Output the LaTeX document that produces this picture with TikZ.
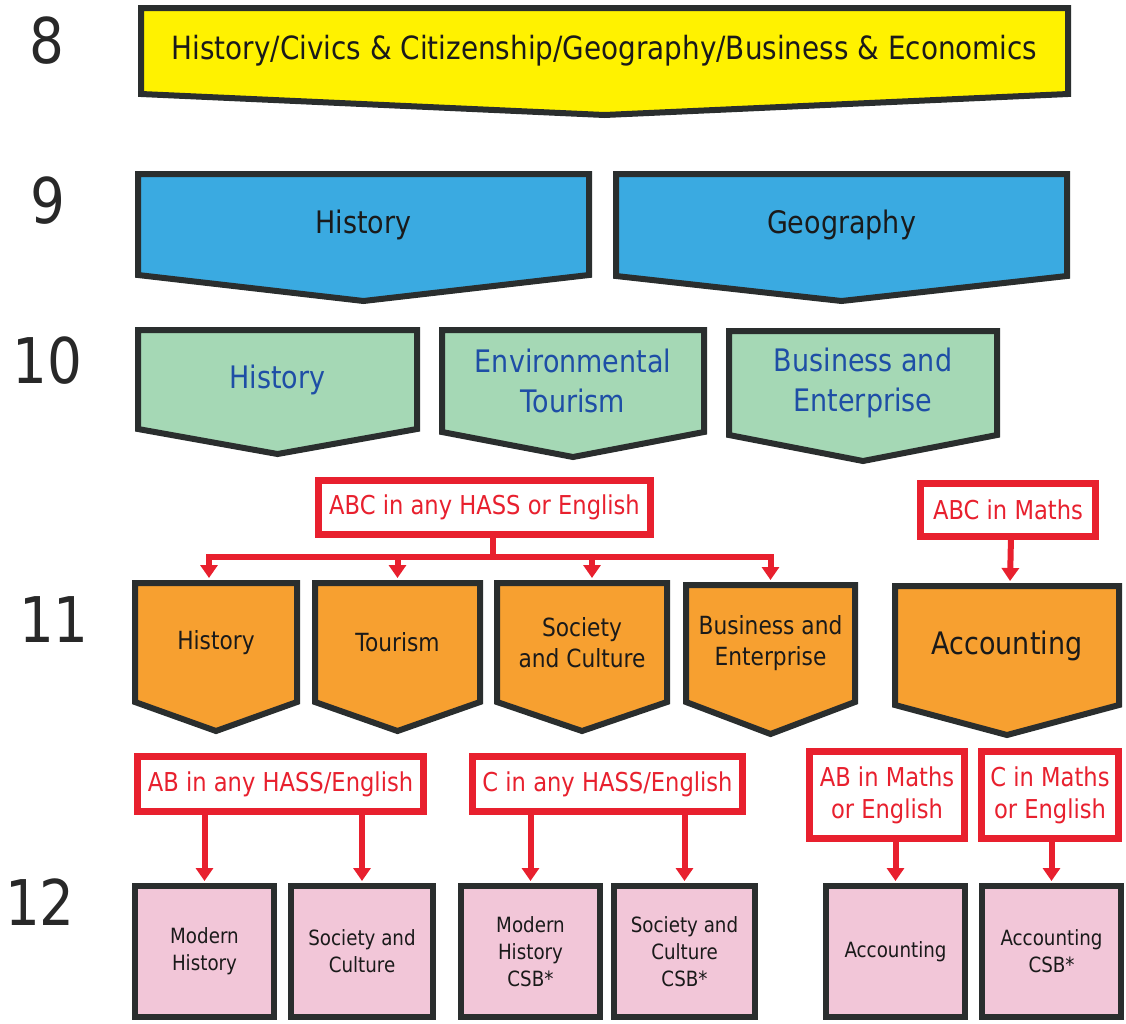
\documentclass[tikz,border=0pt]{standalone}
\usepackage{fontspec}
\setmainfont{DejaVu Sans}[FakeStretch=0.87]
\usetikzlibrary{arrows.meta,backgrounds,calc}
\definecolor{yellowF}{RGB}{255,242,0}
\definecolor{blueF}{RGB}{58,170,225}
\definecolor{greenF}{RGB}{165,216,181}
\definecolor{orangeF}{RGB}{247,160,48}
\definecolor{pinkF}{RGB}{242,198,216}
\definecolor{redC}{RGB}{232,32,46}
\definecolor{edgeC}{RGB}{42,46,46}
\definecolor{navyT}{RGB}{30,78,166}
\definecolor{darkT}{RGB}{26,26,26}
\newcommand\chev[3]{%
  \draw[boxline, fill=#3] (#1.north west) -- (#1.north east) -- (#1.south east)
    -- ([yshift=-#2pt]#1.south) -- (#1.south west) -- cycle;}
\begin{document}
\begin{tikzpicture}[x=1pt,y=-1pt,
  boxline/.style={draw=edgeC, line width=6pt, line join=miter},
  ctext/.style={inner sep=0pt, outer sep=0pt, align=center, text=darkT},
  rownum/.style={inner sep=0pt, anchor=base, text={rgb,255:red,40;green,40;blue,40},
     font=\fontsize{63}{63}\selectfont},
  f32/.style={font=\fontsize{32}{41}\selectfont},
  f31/.style={font=\fontsize{31}{40}\selectfont},
  f25/.style={font=\fontsize{25}{31}\selectfont},
  f26/.style={font=\fontsize{26}{32}\selectfont},
  f21/.style={font=\fontsize{21}{27}\selectfont},
  pinkbox/.style={ctext, f21, draw=edgeC, line width=6pt, fill=pinkF,
     minimum height=131pt},
  redbox/.style={inner sep=0pt, outer sep=0pt, align=center, text=redC,
     draw=redC, line width=7.5pt, fill=white, f26},
  redline/.style={draw=redC, line width=6pt},
  redarrow/.style={redline, -{Triangle[width=17pt,length=13pt]}, shorten >=2pt},
]
\useasboundingbox (0,0) rectangle (1126,1023);
% row numbers
\node[rownum] (r8) at (47,63) {8};
\node[rownum] (r9) at (47.5,223) {9};
\node[rownum] (r10) at (47.5,383) {10};
\node[rownum] (r11) at (54,642) {11};
\node[rownum] (r12) at (40,925) {12};
% year 8
\node[ctext, f32, minimum width=927pt, minimum height=86pt] (y8) at (604.5,51)
  {History/Civics \& Citizenship/Geography/Business \& Economics};
% year 9
\node[ctext, f31, minimum width=451pt, minimum height=101pt] (b9a) at (363.5,224.5) {History};
\node[ctext, f31, minimum width=451pt, minimum height=102pt] (b9b) at (841.5,225) {Geography};
% year 10
\node[ctext, f31, text=navyT, minimum width=279pt, minimum height=99pt] (g10a) at (277.5,379.5) {History};
\node[ctext, f31, text=navyT, minimum width=262pt, minimum height=102pt] (g10b) at (573,381) {Environmental\\Tourism};
\node[ctext, f31, text=navyT, minimum width=268pt, minimum height=104pt] (g10c) at (863,383) {Business and\\Enterprise};
% year 11
\node[ctext, f25, minimum width=162pt, minimum height=119pt] (o11a) at (216,642.5) {History};
\node[ctext, f25, minimum width=165pt, minimum height=119pt] (o11b) at (397.5,642.5) {Tourism};
\node[ctext, f25, minimum width=170pt, minimum height=119pt] (o11c) at (582,642.5) {Society\\and Culture};
\node[ctext, f25, minimum width=169pt, minimum height=117pt] (o11d) at (770.5,643.5) {Business and\\Enterprise};
\node[ctext, f31, minimum width=224pt, minimum height=119pt] (o11e) at (1007,645.5) {Accounting};
% year 12
\node[pinkbox, minimum width=139pt] (p1) at (204.5,951.5) {Modern\\History};
\node[pinkbox, minimum width=142pt] (p2) at (362,951.5) {Society and\\Culture};
\node[pinkbox, minimum width=139pt] (p3) at (530.5,951.5) {Modern\\History\\CSB*};
\node[pinkbox, minimum width=141pt] (p4) at (684.5,951.5) {Society and\\Culture\\CSB*};
\node[pinkbox, minimum width=139pt] (p5) at (895.5,951.5) {Accounting};
\node[pinkbox, minimum width=139pt] (p6) at (1051.5,951.5) {Accounting\\CSB*};
% requirement boxes
\node[redbox, minimum width=332pt, minimum height=54pt] (abc) at (484.5,507.5) {ABC in any HASS or English};
\node[redbox, minimum width=175pt, minimum height=53pt] (abcm) at (1008,510) {ABC in Maths};
\node[redbox, minimum width=286pt, minimum height=55pt] (abh) at (280.5,784) {AB in any HASS/English};
\node[redbox, minimum width=270pt, minimum height=55pt] (ch) at (607.5,784) {C in any HASS/English};
\node[redbox, minimum width=155pt, minimum height=87pt] (abm) at (887,795) {AB in Maths\\or English};
\node[redbox, minimum width=137pt, minimum height=87pt] (cm) at (1050,795) {C in Maths\\or English};
% chevron shapes behind the texts
\begin{pgfonlayer}{background}
  \chev{y8}{21}{yellowF}
  \chev{b9a}{26}{blueF}
  \chev{b9b}{25}{blueF}
  \chev{g10a}{25}{greenF}
  \chev{g10b}{25}{greenF}
  \chev{g10c}{26}{greenF}
  \chev{o11a}{29}{orangeF}
  \chev{o11b}{29}{orangeF}
  \chev{o11c}{29}{orangeF}
  \chev{o11d}{32}{orangeF}
  \chev{o11e}{30}{orangeF}
\end{pgfonlayer}
% connectors
\coordinate (bus) at (493,557);
\draw[redline] ([xshift=8.5pt]abc.south) -- ([xshift=8.5pt]abc.south |- bus);
\draw[redline, line cap=rect] ([xshift=-7pt]o11a.north |- bus) -- (o11d.north |- bus);
\draw[redarrow] ([xshift=-7pt]o11a.north |- bus) -- ([xshift=-7pt,yshift=3pt]o11a.north);
\draw[redarrow] (o11b.north |- bus) -- ([yshift=3pt]o11b.north);
\draw[redarrow] ([xshift=10pt]o11c.north |- bus) -- ([xshift=10pt,yshift=3pt]o11c.north);
\draw[redarrow] (o11d.north |- bus) -- ([yshift=3pt]o11d.north);
\draw[redarrow] ([xshift=3pt]abcm.south) -- ([xshift=3pt,yshift=3pt]o11e.north);
\draw[redarrow] (p1.north |- abh.south) -- ([yshift=3pt]p1.north);
\draw[redarrow] (p2.north |- abh.south) -- ([yshift=3pt]p2.north);
\draw[redarrow] (p3.north |- ch.south) -- ([yshift=3pt]p3.north);
\draw[redarrow] (p4.north |- ch.south) -- ([yshift=3pt]p4.north);
\draw[redarrow] (p5.north |- abm.south) -- ([yshift=3pt]p5.north);
\draw[redarrow] (p6.north |- cm.south) -- ([yshift=3pt]p6.north);
\end{tikzpicture}
\end{document}
